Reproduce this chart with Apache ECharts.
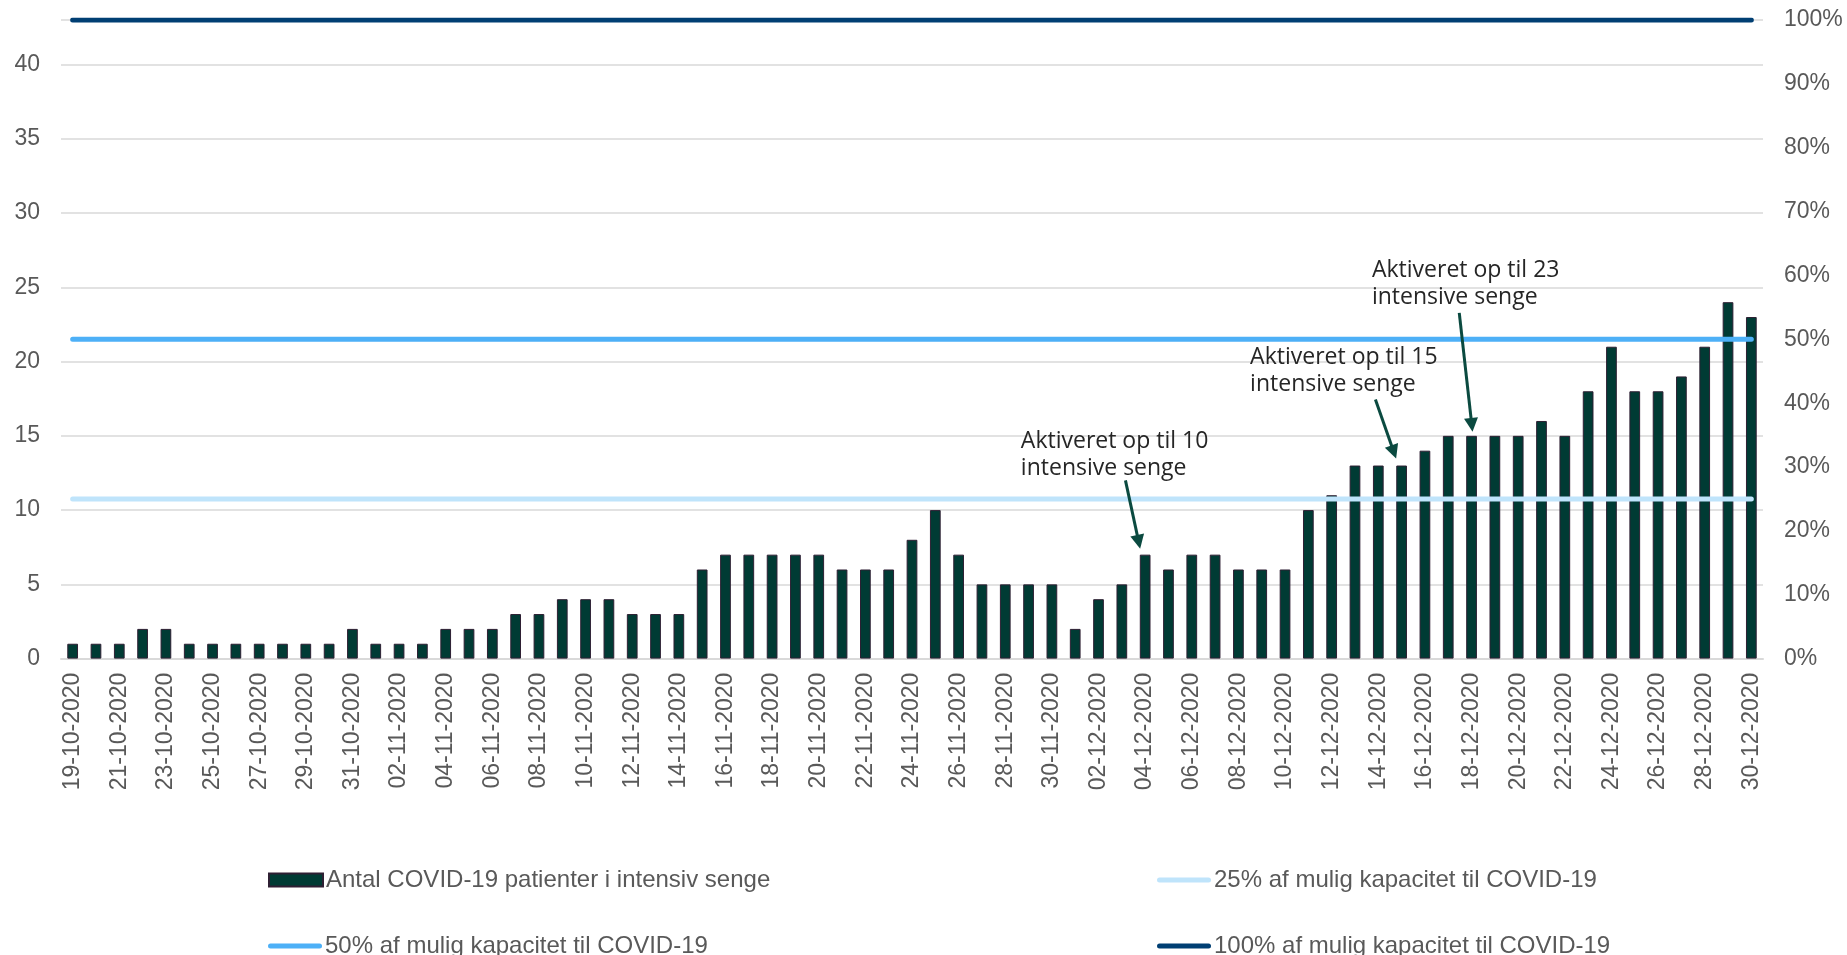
<!DOCTYPE html>
<html>
<head>
<meta charset="utf-8">
<script src="https://cdn.jsdelivr.net/npm/echarts@6/dist/echarts.min.js"></script>
<style>
html,body{margin:0;padding:0;background:#ffffff;}
#chart{width:1847px;height:955px;}
</style>
</head>
<body>
<div id="chart"></div>
<script>
// ---------------- DATA ----------------
const dates = [
  '19-10-2020','20-10-2020','21-10-2020','22-10-2020','23-10-2020','24-10-2020','25-10-2020',
  '26-10-2020','27-10-2020','28-10-2020','29-10-2020','30-10-2020','31-10-2020',
  '01-11-2020','02-11-2020','03-11-2020','04-11-2020','05-11-2020','06-11-2020','07-11-2020',
  '08-11-2020','09-11-2020','10-11-2020','11-11-2020','12-11-2020','13-11-2020','14-11-2020',
  '15-11-2020','16-11-2020','17-11-2020','18-11-2020','19-11-2020','20-11-2020','21-11-2020',
  '22-11-2020','23-11-2020','24-11-2020','25-11-2020','26-11-2020','27-11-2020','28-11-2020',
  '29-11-2020','30-11-2020',
  '01-12-2020','02-12-2020','03-12-2020','04-12-2020','05-12-2020','06-12-2020','07-12-2020',
  '08-12-2020','09-12-2020','10-12-2020','11-12-2020','12-12-2020','13-12-2020','14-12-2020',
  '15-12-2020','16-12-2020','17-12-2020','18-12-2020','19-12-2020','20-12-2020','21-12-2020',
  '22-12-2020','23-12-2020','24-12-2020','25-12-2020','26-12-2020','27-12-2020','28-12-2020',
  '29-12-2020','30-12-2020'
];

const patients = [
  1,1,1,2,2,1,1,1,1,1,1,1,2,
  1,1,1,2,2,2,3,3,4,4,4,3,3,3,6,7,7,7,7,7,6,6,6,8,10,7,5,5,5,5,
  2,4,5,7,6,7,7,6,6,6,10,11,13,13,13,14,15,15,15,15,16,15,18,21,18,18,19,21,24,23
];

// capacity levels (percent of possible capacity, right axis)
const capacityLevels = [25, 50, 100];

const seriesNames = [
  'Antal COVID-19 patienter i intensiv senge',
  '25% af mulig kapacitet til COVID-19',
  '50% af mulig kapacitet til COVID-19',
  '100% af mulig kapacitet til COVID-19'
];

// left axis: patients, right axis: percent
const leftAxisMax = 43;
const leftAxisInterval = 5;
const rightAxisMax = 100;
const rightAxisInterval = 10;

const annotationDates = ['04-12-2020', '15-12-2020', '18-12-2020'];
const annotationTexts = [
  'Aktiveret op til 10\nintensive senge',
  'Aktiveret op til 15\nintensive senge',
  'Aktiveret op til 23\nintensive senge'
];

// ---------------- STYLE ----------------
const FONT = "'Liberation Sans', Arial, sans-serif";
const LABEL_COLOR = '#595959';
const GRID_COLOR = '#d9d9d9';
const BAR_COLOR = '#003b34';
const BAR_BORDER = '#2e1f33';
const LINE_COLORS = ['#bfe4fb', '#4db0f7', '#003f73'];
const ARROW_COLOR = '#0b4a40';
const LINE_ICON = 'path://M2.5,0 L51.5,0 A2.5,2.5 0 0 1 51.5,5 L2.5,5 A2.5,2.5 0 0 1 2.5,0 Z';

// legend slot positions (series index -> [left, top])
const legendSlots = [[268, 868], [1157, 868], [268, 934], [1157, 934]];

// annotation geometry relative to the bar top (pixels)
const annoLayout = [
  { tip: [-5, -6],   start: [-14.7, -68.3], text: [-119.3, -121.3] },
  { tip: [-5.5, -7], start: [-20.7, -59],   text: [-146, -115.3] },
  { tip: [1, -4],    start: [-13.3, -119],  text: [-100.6, -175.4] }
];

const chart = echarts.init(document.getElementById('chart'), null, { renderer: 'canvas' });

const lineSeries = capacityLevels.map((lvl, i) => ({
  name: seriesNames[i + 1],
  type: 'line',
  yAxisIndex: 1,
  data: dates.map(() => lvl),
  symbol: 'none',
  showSymbol: false,
  silent: true,
  z: 3,
  lineStyle: { color: LINE_COLORS[i], width: 5, cap: 'round' },
  itemStyle: { color: LINE_COLORS[i] }
}));

function legendItem(idx) {
  if (idx === 0) return { name: seriesNames[0], icon: 'rect' };
  return {
    name: seriesNames[idx],
    icon: LINE_ICON,
    itemStyle: { color: LINE_COLORS[idx - 1], borderWidth: 0 }
  };
}

const legends = seriesNames.map((n, idx) => ({
  orient: 'horizontal',
  left: legendSlots[idx][0], top: legendSlots[idx][1],
  padding: 0,
  itemWidth: 54, itemHeight: 13,
  symbolKeepAspect: true,
  data: [legendItem(idx)],
  textStyle: { fontSize: 24, color: LABEL_COLOR, fontFamily: FONT, padding: [0, 0, 0, -2] },
  selectedMode: false
}));

const option = {
  animation: false,
  backgroundColor: '#ffffff',
  grid: {
    left: 61, right: 84, top: 20, bottom: 296.4,
    containLabel: false,
    outerBoundsMode: 'none'
  },
  legend: legends,
  xAxis: {
    type: 'category',
    data: dates,
    boundaryGap: true,
    axisTick: { show: false },
    axisLine: { show: true, lineStyle: { color: GRID_COLOR, width: 2 } },
    axisLabel: {
      rotate: 90, interval: 1, margin: 14,
      fontSize: 23, color: LABEL_COLOR, fontFamily: FONT
    },
    splitLine: { show: false }
  },
  yAxis: [
    {
      type: 'value', min: 0, max: leftAxisMax, interval: leftAxisInterval,
      axisLine: { show: false }, axisTick: { show: false },
      axisLabel: { showMaxLabel: false, fontSize: 23, color: LABEL_COLOR, fontFamily: FONT, margin: 21 },
      splitLine: { show: true, lineStyle: { color: GRID_COLOR, width: 1.5 } }
    },
    {
      type: 'value', min: 0, max: rightAxisMax, interval: rightAxisInterval, position: 'right',
      axisLine: { show: false }, axisTick: { show: false },
      axisLabel: { formatter: '{value}%', fontSize: 23, color: LABEL_COLOR, fontFamily: FONT, margin: 21 },
      splitLine: { show: false }
    }
  ],
  series: [
    {
      name: seriesNames[0],
      type: 'bar',
      yAxisIndex: 0,
      data: patients,
      barWidth: '46%',
      z: 2,
      itemStyle: { color: BAR_COLOR, borderColor: BAR_BORDER, borderWidth: 1 }
    },
    ...lineSeries
  ]
};

chart.setOption(option);

// ---------------- ANNOTATIONS ----------------
function arrowElements(sx, sy, tx, ty) {
  const dx = tx - sx, dy = ty - sy;
  const L = Math.hypot(dx, dy);
  const ux = dx / L, uy = dy / L;
  const hl = 14, hw = 7;
  const bx = tx - ux * hl, by = ty - uy * hl;
  const px = -uy, py = ux;
  return [
    { type: 'line', silent: true, z: 10,
      shape: { x1: sx, y1: sy, x2: bx + ux * 2, y2: by + uy * 2 },
      style: { stroke: ARROW_COLOR, lineWidth: 3 } },
    { type: 'polygon', silent: true, z: 10,
      shape: { points: [[tx, ty], [bx + px * hw, by + py * hw], [bx - px * hw, by - py * hw]] },
      style: { fill: ARROW_COLOR } }
  ];
}

const graphics = [];
annotationDates.forEach((d, i) => {
  const idx = dates.indexOf(d);
  const p = chart.convertToPixel({ xAxisIndex: 0, yAxisIndex: 0 }, [idx, patients[idx]]);
  const lay = annoLayout[i];
  const tx = p[0] + lay.tip[0], ty = p[1] + lay.tip[1];
  const sx = tx + lay.start[0], sy = ty + lay.start[1];
  graphics.push(...arrowElements(sx, sy, tx, ty));
  graphics.push({
    type: 'text', silent: true, z: 10,
    x: tx + lay.text[0], y: ty + lay.text[1],
    style: {
      text: annotationTexts[i],
      fill: '#262626',
      font: "23px 'Open Sans', sans-serif",
      lineHeight: 27.5,
      verticalAlign: 'top',
      align: 'left'
    }
  });
});
chart.setOption({ graphic: graphics });
</script>
</body>
</html>
